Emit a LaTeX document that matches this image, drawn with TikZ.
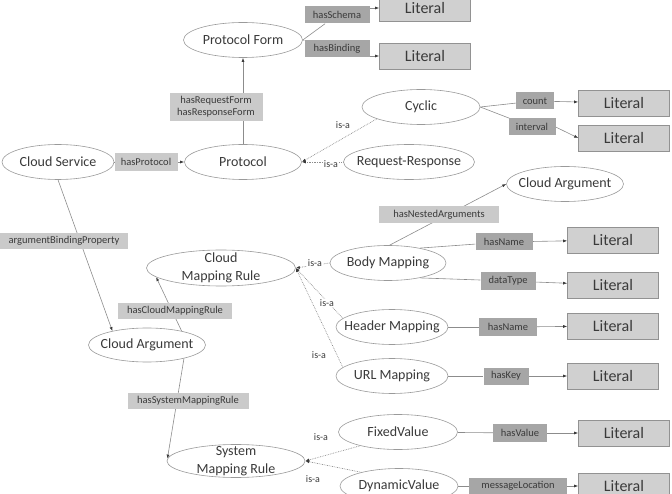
\documentclass[tikz,border=0pt]{standalone}
\usepackage{fontspec}
\setmainfont{Carlito}
\usepackage{tikz}
\usetikzlibrary{shapes,arrows.meta,backgrounds}
\definecolor{ovalline}{HTML}{9A9A9A}
\definecolor{linkline}{HTML}{8C8C8C}
\definecolor{litfill}{HTML}{D0D0D0}
\definecolor{litline}{HTML}{929292}
\definecolor{propdark}{HTML}{A6A6A6}
\definecolor{proplight}{HTML}{CACACA}
\definecolor{inktext}{HTML}{3A3A3A}

\begin{document}
\begin{tikzpicture}[x=1pt,y=-1pt]
\tikzstyle{every node}+=[inner sep=0pt, text=inktext]
\tikzstyle{every label}=[font=\fontsize{14}{18}\selectfont, align=center]
\tikzstyle{concept}=[ellipse, draw=ovalline, line width=0.6pt, fill=white, minimum height=35]
\tikzstyle{literal}=[draw=litline, line width=0.6pt, fill=litfill, minimum width=91, minimum height=26, font=\fontsize{16}{19}\selectfont]
\tikzstyle{propdk}=[fill=propdark, minimum height=17, font=\fontsize{10.5}{12}\selectfont]
\tikzstyle{proplt}=[fill=proplight, minimum height=17, font=\fontsize{10.5}{12}\selectfont]
\tikzstyle{isa}=[fill=white, inner sep=1pt, font=\fontsize{10}{12}\selectfont]
\tikzstyle{link}=[draw=linkline, line width=0.6pt]
\tikzstyle{sub}=[draw=linkline, line width=0.7pt, densely dotted]
\tikzstyle{tip}=[-{Latex[length=4pt,width=3pt,color=inktext]}]
\useasboundingbox (0,0) rectangle (672,494);
\clip (0,0) rectangle (672,494);

\node[concept, minimum width=119, label=center:{Protocol Form}] (pform) at (243,40) {};
\node[concept, minimum width=112, label=center:{Cloud Service}] (csvc) at (58,162) {};
\node[concept, minimum width=117, label=center:{Protocol}] (proto) at (243,162) {};
\node[concept, minimum width=118, label=center:{Cyclic}] (cyclic) at (421,107) {};
\node[concept, minimum width=131, label=center:{Request-Response}] (reqresp) at (409,162) {};
\node[concept, minimum width=117, label=center:{Cloud Argument}] (nestarg) at (565,184) {};
\node[concept, minimum width=149, minimum height=36, label=center:{Cloud\\Mapping Rule}] (cloudrule) at (221,268) {};
\node[concept, minimum width=116, label=center:{Body Mapping}] (bodymap) at (388,263) {};
\node[concept, minimum width=117, minimum height=34, label=center:{Cloud Argument}] (cloudarg) at (147,345) {};
\node[concept, minimum width=112, label=center:{Header Mapping}] (headmap) at (392,327) {};
\node[concept, minimum width=112, label=center:{URL Mapping}] (urlmap) at (392,376) {};
\node[concept, minimum width=138, minimum height=33, label=center:{System\\Mapping Rule}] (sysrule) at (236,461) {};
\node[concept, minimum width=119, label=center:{FixedValue}] (fixval) at (398,432) {};
\node[concept, minimum width=118, label=center:{DynamicValue}] (dynval) at (399,486) {};

\node[literal] (lit1) at (425,8) {Literal};
\node[literal] (lit2) at (425,56) {Literal};
\node[literal] (lit3) at (624,103) {Literal};
\node[literal] (lit4) at (624,138) {Literal};
\node[literal] (lit5) at (613,240) {Literal};
\node[literal] (lit6) at (613,285) {Literal};
\node[literal] (lit7) at (613,326) {Literal};
\node[literal] (lit8) at (613,376) {Literal};
\node[literal] (lit9) at (624,433) {Literal};
\node[literal] (lit10) at (624,486) {Literal};

\node[propdk, minimum width=65] (schema) at (337,15) {hasSchema};
\node[propdk, minimum width=65] (binding) at (337,49) {hasBinding};
\node[proplt, minimum width=93, minimum height=28, align=center] (reqform) at (216,107) {hasRequestForm\\hasResponseForm};
\node[proplt, minimum width=63, minimum height=18] (hasproto) at (146,162) {hasProtocol};
\node[proplt, minimum width=128, minimum height=16] (argbind) at (64,241) {argumentBindingProperty};
\node[propdk, minimum width=38] (count) at (535,101) {count};
\node[propdk, minimum width=47] (interval) at (532,127) {interval};
\node[proplt, minimum width=120] (nested) at (439,215) {hasNestedArguments};
\node[propdk, minimum width=57] (bodyname) at (504,242) {hasName};
\node[propdk, minimum width=55, minimum height=18] (datatype) at (508,281) {dataType};
\node[propdk, minimum width=58] (headname) at (508,327) {hasName};
\node[propdk, minimum width=45] (haskey) at (506,376) {hasKey};
\node[propdk, minimum width=54, minimum height=18] (hasval) at (520,433) {hasValue};
\node[propdk, minimum width=98] (msgloc) at (518,486) {messageLocation};
\node[proplt, minimum width=114, minimum height=16] (cloudmap) at (175,311) {hasCloudMappingRule};
\node[proplt, minimum width=121, minimum height=16] (sysmap) at (188,401) {hasSystemMappingRule};

\node[isa] (isa1) at (343,125) {is-a};
\node[isa] (isa2) at (331,164) {is-a};
\node[isa] (isa3) at (315,263) {is-a};
\node[isa] (isa4) at (327,303) {is-a};
\node[isa] (isa5) at (319,355) {is-a};
\node[isa] (isa6) at (321,437) {is-a};
\node[isa] (isa7) at (313,479) {is-a};

\begin{scope}[on background layer]
\draw[link] (pform.east) -- (schema);
\draw[link] (pform.east) -- (binding);
\draw[link, tip] (schema.east |- lit1.west) -- (lit1.west);
\draw[link, tip] (binding.east |- lit2.west) -- (lit2.west);
\draw[link, tip] (proto.north) -- (pform.south);
\draw[link, tip] (csvc.east) -- (proto.west);
\draw[sub, tip] (cyclic.195) -- (proto.east);
\draw[sub, tip] (reqresp.west) -- (proto.east);
\draw[link] (cyclic.east) -- (count);
\draw[link] (cyclic.east) -- (interval);
\draw[link, tip] (count) -- (lit3);
\draw[link, tip] (interval.east) -- (lit4.west);
\draw[link, tip] (csvc.south) -- (cloudarg.158);
\draw[link, tip] (cloudarg.22) -- (cloudrule.188);
\draw[link, tip] (cloudarg.-20) -- (sysrule.178);
\draw[sub, tip] (bodymap.west) -- (cloudrule.east);
\draw[sub, tip] (headmap.170) -- (cloudrule.east);
\draw[sub, tip] (urlmap.170) -- (cloudrule.east);
\draw[sub, tip] (fixval.200) -- (sysrule.east);
\draw[sub, tip] (dynval.160) -- (sysrule.east);
\draw[link, tip] (bodymap.85) -- (nestarg.west);
\draw[link] (bodymap.25) -- (bodyname);
\draw[link, tip] (bodyname) -- (lit5);
\draw[link] (bodymap.-25) -- (datatype);
\draw[link, tip] (datatype) -- (lit6);
\draw[link] (headmap) -- (headname);
\draw[link, tip] (headname) -- (lit7);
\draw[link] (urlmap) -- (haskey);
\draw[link, tip] (haskey) -- (lit8);
\draw[link] (fixval) -- (hasval);
\draw[link, tip] (hasval) -- (lit9);
\draw[link] (dynval) -- (msgloc);
\draw[link, tip] (msgloc) -- (lit10);
\end{scope}
\end{tikzpicture}
\end{document}
